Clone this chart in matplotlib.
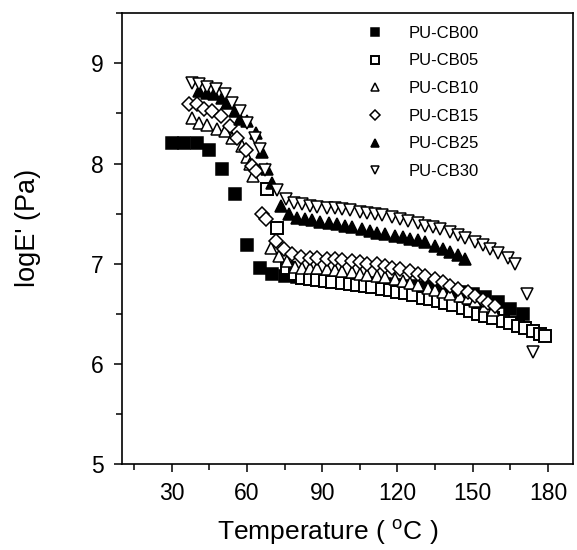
import numpy as np
import matplotlib
matplotlib.use('Agg')
from matplotlib import pyplot as plt
from matplotlib.ticker import MultipleLocator

plt.rcParams['font.family'] = ['Liberation Sans', 'DejaVu Sans']
plt.rcParams['mathtext.fontset'] = 'custom'
plt.rcParams['mathtext.rm'] = 'Liberation Sans'

# PU-CB00 (filled squares)
t_cb00 = [30, 35, 40, 45, 50, 55, 60, 65, 70, 75, 80, 85, 90, 95, 100, 105, 110,
          115, 120, 125, 130, 135, 140, 145, 150, 155, 160, 165, 170]
v_cb00 = [8.20, 8.20, 8.20, 8.14, 7.95, 7.70, 7.19, 6.96, 6.90, 6.88, 6.87, 6.86,
          6.85, 6.84, 6.83, 6.82, 6.81, 6.80, 6.79, 6.78, 6.77, 6.76, 6.74, 6.72,
          6.70, 6.67, 6.62, 6.55, 6.50]

# PU-CB05 (open squares)
t_cb05 = [68, 72, 76, 79, 82, 85, 88, 91, 94, 98, 101, 104, 107, 110, 114, 117,
          120, 123, 126, 130, 133, 136, 139, 142, 146, 149, 152, 155, 158, 162,
          165, 168, 171, 174, 177, 179]
v_cb05 = [7.75, 7.36, 6.96, 6.90, 6.86, 6.85, 6.84, 6.83, 6.82, 6.81, 6.80, 6.79,
          6.78, 6.77, 6.75, 6.74, 6.72, 6.71, 6.69, 6.66, 6.65, 6.63, 6.61, 6.59,
          6.56, 6.53, 6.50, 6.48, 6.46, 6.43, 6.41, 6.38, 6.36, 6.33, 6.30, 6.28]

# PU-CB10 (open up triangles)
t_cb10 = [38, 41, 44, 48, 51, 54, 58, 60, 61, 62.5, 69.5, 72.7, 76, 79, 82, 85,
          88, 92, 95, 98, 102, 105, 108, 112, 115, 119, 122, 125, 128, 132, 135,
          138, 141, 145, 148, 151, 155, 158]
v_cb10 = [8.45, 8.40, 8.38, 8.34, 8.32, 8.25, 8.17, 8.07, 8.00, 7.88, 7.16, 7.08,
          7.03, 6.97, 6.96, 6.96, 6.96, 6.95, 6.94, 6.93, 6.92, 6.90, 6.89, 6.88,
          6.87, 6.85, 6.83, 6.81, 6.79, 6.76, 6.74, 6.72, 6.70, 6.68, 6.66, 6.63,
          6.58, 6.54]

# PU-CB15 (open diamonds)
t_cb15 = [37, 40, 43, 46, 49.5, 53, 56, 59.5, 62, 63.5, 66, 67.5, 71.5, 74.7, 78,
          81.5, 85, 88, 92, 95, 98, 102, 105, 108, 112, 115, 118, 121, 125, 128,
          131, 135, 138, 141, 144, 148, 151, 154, 156, 159]
v_cb15 = [8.59, 8.59, 8.54, 8.52, 8.47, 8.37, 8.25, 8.14, 7.98, 7.93, 7.50, 7.45,
          7.23, 7.15, 7.10, 7.07, 7.06, 7.06, 7.05, 7.05, 7.04, 7.03, 7.02, 7.00,
          7.00, 6.98, 6.96, 6.95, 6.93, 6.90, 6.88, 6.85, 6.82, 6.78, 6.75, 6.72,
          6.68, 6.64, 6.61, 6.58]

# PU-CB25 (filled up triangles)
t_cb25 = [41, 44, 47, 50, 52, 55, 57, 60, 63.5, 66, 68, 70, 73.5, 76.7, 80, 83,
          86, 89, 92.5, 96, 99, 102, 106, 109, 112, 115, 119, 122, 125, 128, 131,
          135, 138, 141, 144, 147]
v_cb25 = [8.72, 8.70, 8.69, 8.65, 8.60, 8.52, 8.44, 8.42, 8.30, 8.12, 7.95, 7.81,
          7.58, 7.50, 7.46, 7.45, 7.44, 7.42, 7.41, 7.40, 7.38, 7.37, 7.35, 7.33,
          7.31, 7.30, 7.28, 7.27, 7.25, 7.24, 7.22, 7.18, 7.15, 7.12, 7.09, 7.05]

# PU-CB30 (open down triangles)
t_cb30 = [38, 41, 44, 47.5, 51, 54, 57, 60, 63, 65, 67, 72, 75.5, 78.7, 82, 85,
          88, 92, 95, 98, 101, 105, 108, 111, 114, 118, 121, 124, 128, 131, 134,
          137, 141, 144, 147, 151, 154, 157, 160, 164, 167, 171.5, 174]
v_cb30 = [8.80, 8.79, 8.76, 8.74, 8.69, 8.60, 8.52, 8.40, 8.25, 8.15, 7.94, 7.74,
          7.65, 7.61, 7.60, 7.58, 7.57, 7.56, 7.56, 7.55, 7.54, 7.52, 7.51, 7.50,
          7.49, 7.47, 7.45, 7.43, 7.41, 7.38, 7.37, 7.35, 7.32, 7.29, 7.26, 7.22,
          7.19, 7.15, 7.11, 7.06, 7.00, 6.70, 6.12]

fig = plt.figure(figsize=(5.77, 5.5), dpi=100)
ax = fig.add_axes([0.211, 0.156, 0.782, 0.820])

ax.plot(t_cb00, v_cb00, 's', ms=8.5, mfc='black', mec='black', mew=1.1, label='PU-CB00')
ax.plot(t_cb05, v_cb05, 's', ms=8.2, mfc='white', mec='black', mew=1.4, label='PU-CB05')
ax.plot(t_cb10, v_cb10, '^', ms=9, mfc='white', mec='black', mew=1.1, label='PU-CB10')
ax.plot(t_cb15, v_cb15, 'D', ms=7, mfc='white', mec='black', mew=1.1, label='PU-CB15')
ax.plot(t_cb25, v_cb25, '^', ms=9, mfc='black', mec='black', mew=1.1, label='PU-CB25')
ax.plot(t_cb30, v_cb30, 'v', ms=9, mfc='white', mec='black', mew=1.1, label='PU-CB30')

ax.set_xlim(10, 190)
ax.set_ylim(5, 9.5)
ax.set_xticks([30, 60, 90, 120, 150, 180])
ax.set_yticks([5, 6, 7, 8, 9])
ax.xaxis.set_minor_locator(MultipleLocator(15))
ax.yaxis.set_minor_locator(MultipleLocator(0.5))
ax.tick_params(which='major', direction='out', length=6, width=1.1, labelsize=16.5,
               pad=7, top=False, right=False)
ax.tick_params(which='minor', direction='out', length=4, width=1.1, top=False, right=False)
for s in ax.spines.values():
    s.set_linewidth(1.2)

ax.set_xlabel('Temperature ( $^{\\rm o}$C )', fontsize=19, labelpad=9)
ax.xaxis.label.set_x(0.457)
ax.set_ylabel("logE' (Pa)", fontsize=19.5)
ax.yaxis.set_label_coords(-0.18, 0.523)

leg = ax.legend(loc='upper left', bbox_to_anchor=(0.5425, 0.972), frameon=False,
                fontsize=12, handlelength=1, handletextpad=1.5, labelspacing=0.76,
                borderpad=0, borderaxespad=0, markerscale=0.7)

fig.savefig('out.png', dpi=100)
